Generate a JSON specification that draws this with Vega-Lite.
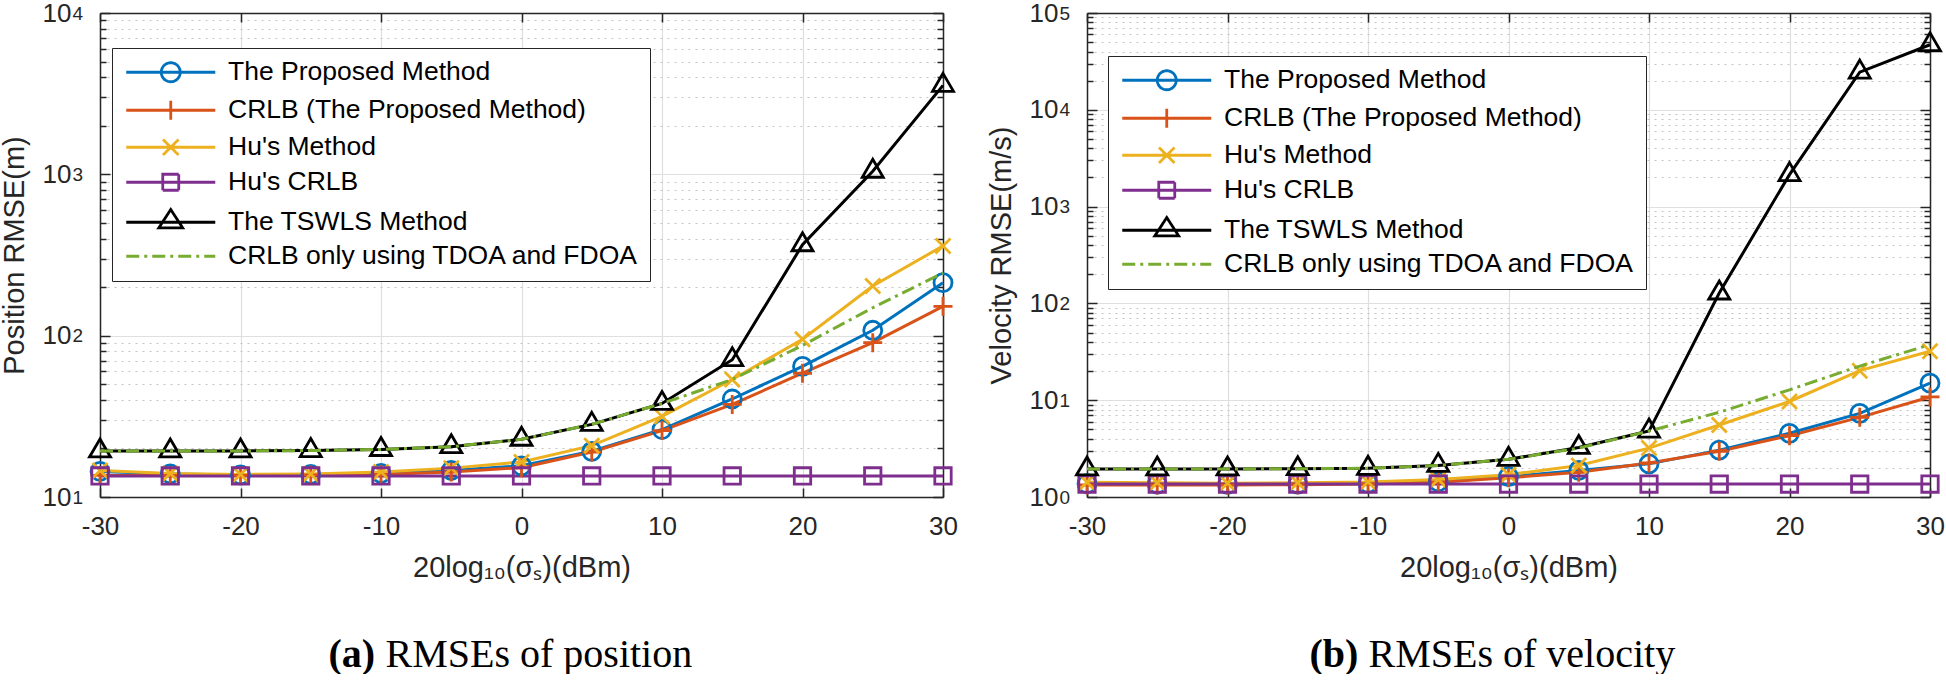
{
"$schema": "https://vega.github.io/schema/vega-lite/v6.json",
"background": "white",
"padding": {"left": 0, "top": 0, "right": 0, "bottom": 0},
"spacing": 27,
"config": {
  "view": {"stroke": null},
  "axis": {"labelFont": "Liberation Sans", "titleFont": "Liberation Sans", "labelColor": "#262626", "titleColor": "#262626", "domainColor": "#262626", "tickColor": "#262626", "domainWidth": 1.5, "tickWidth": 1.5, "titleFontWeight": "normal", "labelOverlap": false, "labelFlush": false, "minExtent": 0}
},
"resolve": {"scale": {"color": "independent", "shape": "independent", "strokeDash": "independent"}},
"datasets": {
"pos": [
{"s":"The Proposed Method","x":-30,"v":14.4},{"s":"The Proposed Method","x":-25,"v":13.9},{"s":"The Proposed Method","x":-20,"v":13.7},{"s":"The Proposed Method","x":-15,"v":13.8},{"s":"The Proposed Method","x":-10,"v":14.0},{"s":"The Proposed Method","x":-5,"v":14.6},{"s":"The Proposed Method","x":0,"v":15.6},{"s":"The Proposed Method","x":5,"v":19.2},{"s":"The Proposed Method","x":10,"v":26.2},{"s":"The Proposed Method","x":15,"v":40.5},{"s":"The Proposed Method","x":20,"v":64.5},{"s":"The Proposed Method","x":25,"v":108},{"s":"The Proposed Method","x":30,"v":213},
{"s":"CRLB (The Proposed Method)","x":-30,"v":13.6},{"s":"CRLB (The Proposed Method)","x":-25,"v":13.6},{"s":"CRLB (The Proposed Method)","x":-20,"v":13.6},{"s":"CRLB (The Proposed Method)","x":-15,"v":13.7},{"s":"CRLB (The Proposed Method)","x":-10,"v":13.8},{"s":"CRLB (The Proposed Method)","x":-5,"v":14.3},{"s":"CRLB (The Proposed Method)","x":0,"v":15.2},{"s":"CRLB (The Proposed Method)","x":5,"v":19.0},{"s":"CRLB (The Proposed Method)","x":10,"v":25.8},{"s":"CRLB (The Proposed Method)","x":15,"v":37.5},{"s":"CRLB (The Proposed Method)","x":20,"v":58.5},{"s":"CRLB (The Proposed Method)","x":25,"v":90.5},{"s":"CRLB (The Proposed Method)","x":30,"v":152},
{"s":"Hu's Method","x":-30,"v":14.6},{"s":"Hu's Method","x":-25,"v":14.0},{"s":"Hu's Method","x":-20,"v":13.8},{"s":"Hu's Method","x":-15,"v":13.9},{"s":"Hu's Method","x":-10,"v":14.3},{"s":"Hu's Method","x":-5,"v":15.1},{"s":"Hu's Method","x":0,"v":16.5},{"s":"Hu's Method","x":5,"v":20.8},{"s":"Hu's Method","x":10,"v":31.6},{"s":"Hu's Method","x":15,"v":53.5},{"s":"Hu's Method","x":20,"v":95},{"s":"Hu's Method","x":25,"v":203},{"s":"Hu's Method","x":30,"v":360},
{"s":"Hu's CRLB","x":-30,"v":13.5},{"s":"Hu's CRLB","x":-25,"v":13.5},{"s":"Hu's CRLB","x":-20,"v":13.5},{"s":"Hu's CRLB","x":-15,"v":13.5},{"s":"Hu's CRLB","x":-10,"v":13.5},{"s":"Hu's CRLB","x":-5,"v":13.5},{"s":"Hu's CRLB","x":0,"v":13.5},{"s":"Hu's CRLB","x":5,"v":13.5},{"s":"Hu's CRLB","x":10,"v":13.5},{"s":"Hu's CRLB","x":15,"v":13.5},{"s":"Hu's CRLB","x":20,"v":13.5},{"s":"Hu's CRLB","x":25,"v":13.5},{"s":"Hu's CRLB","x":30,"v":13.5},
{"s":"The TSWLS Method","x":-30,"v":19.3},{"s":"The TSWLS Method","x":-25,"v":19.3},{"s":"The TSWLS Method","x":-20,"v":19.3},{"s":"The TSWLS Method","x":-15,"v":19.4},{"s":"The TSWLS Method","x":-10,"v":19.7},{"s":"The TSWLS Method","x":-5,"v":20.5},{"s":"The TSWLS Method","x":0,"v":22.8},{"s":"The TSWLS Method","x":5,"v":28.2},{"s":"The TSWLS Method","x":10,"v":38},{"s":"The TSWLS Method","x":15,"v":71},{"s":"The TSWLS Method","x":20,"v":366},{"s":"The TSWLS Method","x":25,"v":1045},{"s":"The TSWLS Method","x":30,"v":3560},
{"s":"CRLB only using TDOA and FDOA","x":-30,"v":19.3},{"s":"CRLB only using TDOA and FDOA","x":-25,"v":19.3},{"s":"CRLB only using TDOA and FDOA","x":-20,"v":19.3},{"s":"CRLB only using TDOA and FDOA","x":-15,"v":19.4},{"s":"CRLB only using TDOA and FDOA","x":-10,"v":19.7},{"s":"CRLB only using TDOA and FDOA","x":-5,"v":20.5},{"s":"CRLB only using TDOA and FDOA","x":0,"v":22.8},{"s":"CRLB only using TDOA and FDOA","x":5,"v":28.2},{"s":"CRLB only using TDOA and FDOA","x":10,"v":38},{"s":"CRLB only using TDOA and FDOA","x":15,"v":53.5},{"s":"CRLB only using TDOA and FDOA","x":20,"v":87},{"s":"CRLB only using TDOA and FDOA","x":25,"v":149},{"s":"CRLB only using TDOA and FDOA","x":30,"v":245}
],
"vel": [
{"s":"The Proposed Method","x":-30,"v":1.37},{"s":"The Proposed Method","x":-25,"v":1.36},{"s":"The Proposed Method","x":-20,"v":1.35},{"s":"The Proposed Method","x":-15,"v":1.36},{"s":"The Proposed Method","x":-10,"v":1.38},{"s":"The Proposed Method","x":-5,"v":1.43},{"s":"The Proposed Method","x":0,"v":1.62},{"s":"The Proposed Method","x":5,"v":1.88},{"s":"The Proposed Method","x":10,"v":2.2},{"s":"The Proposed Method","x":15,"v":3.05},{"s":"The Proposed Method","x":20,"v":4.55},{"s":"The Proposed Method","x":25,"v":7.3},{"s":"The Proposed Method","x":30,"v":15.0},
{"s":"CRLB (The Proposed Method)","x":-30,"v":1.33},{"s":"CRLB (The Proposed Method)","x":-25,"v":1.33},{"s":"CRLB (The Proposed Method)","x":-20,"v":1.33},{"s":"CRLB (The Proposed Method)","x":-15,"v":1.34},{"s":"CRLB (The Proposed Method)","x":-10,"v":1.36},{"s":"CRLB (The Proposed Method)","x":-5,"v":1.42},{"s":"CRLB (The Proposed Method)","x":0,"v":1.58},{"s":"CRLB (The Proposed Method)","x":5,"v":1.80},{"s":"CRLB (The Proposed Method)","x":10,"v":2.25},{"s":"CRLB (The Proposed Method)","x":15,"v":2.97},{"s":"CRLB (The Proposed Method)","x":20,"v":4.3},{"s":"CRLB (The Proposed Method)","x":25,"v":6.65},{"s":"CRLB (The Proposed Method)","x":30,"v":10.8},
{"s":"Hu's Method","x":-30,"v":1.42},{"s":"Hu's Method","x":-25,"v":1.40},{"s":"Hu's Method","x":-20,"v":1.39},{"s":"Hu's Method","x":-15,"v":1.40},{"s":"Hu's Method","x":-10,"v":1.43},{"s":"Hu's Method","x":-5,"v":1.52},{"s":"Hu's Method","x":0,"v":1.70},{"s":"Hu's Method","x":5,"v":2.12},{"s":"Hu's Method","x":10,"v":3.2},{"s":"Hu's Method","x":15,"v":5.55},{"s":"Hu's Method","x":20,"v":9.7},{"s":"Hu's Method","x":25,"v":20.2},{"s":"Hu's Method","x":30,"v":32},
{"s":"Hu's CRLB","x":-30,"v":1.36},{"s":"Hu's CRLB","x":-25,"v":1.36},{"s":"Hu's CRLB","x":-20,"v":1.36},{"s":"Hu's CRLB","x":-15,"v":1.36},{"s":"Hu's CRLB","x":-10,"v":1.36},{"s":"Hu's CRLB","x":-5,"v":1.36},{"s":"Hu's CRLB","x":0,"v":1.36},{"s":"Hu's CRLB","x":5,"v":1.36},{"s":"Hu's CRLB","x":10,"v":1.36},{"s":"Hu's CRLB","x":15,"v":1.36},{"s":"Hu's CRLB","x":20,"v":1.36},{"s":"Hu's CRLB","x":25,"v":1.36},{"s":"Hu's CRLB","x":30,"v":1.36},
{"s":"The TSWLS Method","x":-30,"v":1.95},{"s":"The TSWLS Method","x":-25,"v":1.95},{"s":"The TSWLS Method","x":-20,"v":1.95},{"s":"The TSWLS Method","x":-15,"v":1.96},{"s":"The TSWLS Method","x":-10,"v":1.98},{"s":"The TSWLS Method","x":-5,"v":2.12},{"s":"The TSWLS Method","x":0,"v":2.45},{"s":"The TSWLS Method","x":5,"v":3.25},{"s":"The TSWLS Method","x":10,"v":4.8},{"s":"The TSWLS Method","x":15,"v":128},{"s":"The TSWLS Method","x":20,"v":2140},{"s":"The TSWLS Method","x":25,"v":24500},{"s":"The TSWLS Method","x":30,"v":47000},
{"s":"CRLB only using TDOA and FDOA","x":-30,"v":1.95},{"s":"CRLB only using TDOA and FDOA","x":-25,"v":1.95},{"s":"CRLB only using TDOA and FDOA","x":-20,"v":1.95},{"s":"CRLB only using TDOA and FDOA","x":-15,"v":1.96},{"s":"CRLB only using TDOA and FDOA","x":-10,"v":1.98},{"s":"CRLB only using TDOA and FDOA","x":-5,"v":2.12},{"s":"CRLB only using TDOA and FDOA","x":0,"v":2.45},{"s":"CRLB only using TDOA and FDOA","x":5,"v":3.2},{"s":"CRLB only using TDOA and FDOA","x":10,"v":4.8},{"s":"CRLB only using TDOA and FDOA","x":15,"v":7.5},{"s":"CRLB only using TDOA and FDOA","x":20,"v":12.8},{"s":"CRLB only using TDOA and FDOA","x":25,"v":22.5},{"s":"CRLB only using TDOA and FDOA","x":30,"v":37.5}
]
},
"hconcat": [
{
"width": 843, "height": 484,
"data": {"name": "pos"},
"resolve": {"scale": {"color": "independent", "shape": "independent", "strokeDash": "independent"}, "axis": {"x": "independent", "y": "independent"}},
"layer": [
{
"transform": [{"filter": "datum.s !== 'CRLB only using TDOA and FDOA'"}],
"mark": {"type": "line", "strokeWidth": 3},
"encoding": {
"x": {"field": "x", "type": "quantitative", "scale": {"domain": [-30, 30], "nice": false, "zero": false},
 "axis": {"orient": "bottom", "values": [-30,-20,-10,0,10,20,30], "labelExpr": "'' + datum.value", "ticks": false, "domain": true, "grid": true, "gridColor": "#dfdfdf", "gridWidth": 1.2, "labelFontSize": 26, "labelPadding": 16, "title": "20log₁₀(σₛ)(dBm)", "titleFontSize": 29, "titleY": 79, "titleBaseline": "alphabetic"}},
"y": {"field": "v", "type": "quantitative", "scale": {"type": "log", "domain": [10, 10000], "nice": false},
 "axis": {"orient": "left", "values": [10,20,30,40,50,60,70,80,90,100,200,300,400,500,600,700,800,900,1000,2000,3000,4000,5000,6000,7000,8000,9000,10000],
  "labelExpr": "abs(log(datum.value)/LN10 - round(log(datum.value)/LN10)) < 0.001 ? '10' : ''",
  "ticks": false, "domain": true, "grid": true,
  "gridColor": {"condition": {"test": "abs(log(datum.value)/LN10 - round(log(datum.value)/LN10)) < 0.001", "value": "#dfdfdf"}, "value": "#c4c4c4"},
  "gridDash": {"condition": {"test": "abs(log(datum.value)/LN10 - round(log(datum.value)/LN10)) < 0.001", "value": []}, "value": [2, 5]},
  "gridWidth": 1.2,
  "labelFontSize": 26, "labelPadding": 29, "labelBaseline": "middle", "labelDy": 5,
  "title": "Position RMSE(m)", "titleFontSize": 29, "titleX": -77, "titleBaseline": "alphabetic"}},
"color": {"field": "s", "type": "nominal", "scale": {"domain": ["The Proposed Method","CRLB (The Proposed Method)","Hu's Method","Hu's CRLB","The TSWLS Method","CRLB only using TDOA and FDOA"], "range": ["#0072BD","#D95319","#EDB120","#7E2F8E","#000000","#77AC30"]}, "legend": null}
}
},
{
"transform": [{"filter": "datum.s !== 'CRLB only using TDOA and FDOA'"}],
"mark": {"type": "point", "filled": false, "strokeWidth": 2.8, "size": 400, "opacity": 1},
"encoding": {
"x": {"field": "x", "type": "quantitative", "scale": {"domain": [-30, 30], "nice": false, "zero": false}, "axis": null},
"y": {"field": "v", "type": "quantitative", "scale": {"type": "log", "domain": [10, 10000], "nice": false}, "axis": null},
"color": {"field": "s", "type": "nominal", "scale": {"domain": ["The Proposed Method","CRLB (The Proposed Method)","Hu's Method","Hu's CRLB","The TSWLS Method","CRLB only using TDOA and FDOA"], "range": ["#0072BD","#D95319","#EDB120","#7E2F8E","#000000","#77AC30"]}, "legend": null},
"shape": {"field": "s", "type": "nominal", "scale": {"domain": ["The Proposed Method","CRLB (The Proposed Method)","Hu's Method","Hu's CRLB","The TSWLS Method"], "range": ["M0.9,0A0.9,0.9,0,1,1,-0.9,0A0.9,0.9,0,1,1,0.9,0Z","M-0.95,0L0.95,0M0,-0.95L0,0.95","M-0.75,-0.75L0.75,0.75M-0.75,0.75L0.75,-0.75","M-0.82,-0.82L0.82,-0.82L0.82,0.82L-0.82,0.82Z","M0,-1.2L1.05,0.6L-1.05,0.6Z"]}, "legend": null}
}
},
{
"transform": [{"filter": "datum.s === 'CRLB only using TDOA and FDOA'"}],
"mark": {"type": "line", "strokeWidth": 3, "strokeDash": [13, 5, 3, 5], "color": "#77AC30"},
"encoding": {
"x": {"field": "x", "type": "quantitative", "scale": {"domain": [-30, 30], "nice": false, "zero": false}, "axis": null},
"y": {"field": "v", "type": "quantitative", "scale": {"type": "log", "domain": [10, 10000], "nice": false}, "axis": null}
}
},
{
"mark": {"type": "point", "filled": false, "opacity": 0},
"encoding": {
"x": {"field": "x", "type": "quantitative", "scale": {"domain": [-30, 30], "nice": false, "zero": false}, "axis": null},
"y": {"field": "v", "type": "quantitative", "scale": {"type": "log", "domain": [10, 10000], "nice": false}, "axis": null},
"color": {"field": "s", "type": "nominal", "scale": {"domain": ["The Proposed Method","CRLB (The Proposed Method)","Hu's Method","Hu's CRLB","The TSWLS Method","CRLB only using TDOA and FDOA"], "range": ["#0072BD","#D95319","#EDB120","#7E2F8E","#000000","#77AC30"]},
 "legend": {"title": null, "orient": "none", "legendX": 12, "legendY": 35, "strokeColor": "#262626", "fillColor": "white", "padding": 11, "rowPadding": 7, "symbolSize": 400, "symbolOffset": 34.5, "symbolStrokeWidth": 2.8, "symbolFillColor": "transparent", "symbolOpacity": 1, "labelFont": "Liberation Sans", "labelFontSize": 26.5, "labelColor": "black", "labelOffset": 44, "labelLimit": 0}},
"shape": {"field": "s", "type": "nominal", "scale": {"domain": ["The Proposed Method","CRLB (The Proposed Method)","Hu's Method","Hu's CRLB","The TSWLS Method","CRLB only using TDOA and FDOA"], "range": ["M-4.45,0L4.45,0M0.95,0A0.95,0.95,0,1,1,-0.95,0A0.95,0.95,0,1,1,0.95,0Z","M-4.45,0L4.45,0M0,-0.95L0,0.95","M-4.45,0L4.45,0M-0.78,-0.78L0.78,0.78M-0.78,0.78L0.78,-0.78","M-4.45,0L4.45,0M-0.8,-0.8L0.8,-0.8L0.8,0.8L-0.8,0.8Z","M-4.45,0L4.45,0M0,-1.27L1.2,0.57L-1.2,0.57Z","M-4.45,0L4.45,0"]},
 "legend": {"title": null, "orient": "none", "legendX": 12, "legendY": 35, "strokeColor": "#262626", "fillColor": "white", "padding": 11, "rowPadding": 7, "symbolSize": 400, "symbolOffset": 34.5, "symbolStrokeWidth": 2.8, "symbolFillColor": "transparent", "symbolOpacity": 1, "labelFont": "Liberation Sans", "labelFontSize": 26.5, "labelColor": "black", "labelOffset": 44, "labelLimit": 0}},
"strokeDash": {"field": "s", "type": "nominal", "scale": {"domain": ["The Proposed Method","CRLB (The Proposed Method)","Hu's Method","Hu's CRLB","The TSWLS Method","CRLB only using TDOA and FDOA"], "range": [[1,0],[1,0],[1,0],[1,0],[1,0],[13,5,3,5]]},
 "legend": {"title": null, "orient": "none", "legendX": 12, "legendY": 35, "strokeColor": "#262626", "fillColor": "white", "padding": 11, "rowPadding": 7, "symbolSize": 400, "symbolOffset": 34.5, "symbolStrokeWidth": 2.8, "symbolFillColor": "transparent", "symbolOpacity": 1, "labelFont": "Liberation Sans", "labelFontSize": 26.5, "labelColor": "black", "labelOffset": 44, "labelLimit": 0}}
}
},
{
"mark": {"type": "point", "opacity": 0},
"encoding": {
"x": {"field": "x", "type": "quantitative", "scale": {"domain": [-30, 30], "nice": false, "zero": false},
 "axis": {"orient": "top", "values": [-30,-20,-10,0,10,20,30], "labels": false, "ticks": true, "tickSize": -9, "domain": true, "grid": false, "title": null}},
"y": {"field": "v", "type": "quantitative", "scale": {"type": "log", "domain": [10, 10000], "nice": false},
 "axis": {"orient": "right", "values": [10,20,30,40,50,60,70,80,90,100,200,300,400,500,600,700,800,900,1000,2000,3000,4000,5000,6000,7000,8000,9000,10000], "labels": false, "ticks": true,
  "tickSize": {"condition": {"test": "abs(log(datum.value)/LN10 - round(log(datum.value)/LN10)) < 0.001", "value": -10}, "value": -6}, "domain": true, "grid": false, "title": null}}
}
},
{
"mark": {"type": "point", "opacity": 0},
"encoding": {
"x": {"field": "x", "type": "quantitative", "scale": {"domain": [-30, 30], "nice": false, "zero": false},
 "axis": {"orient": "bottom", "values": [-30,-20,-10,0,10,20,30], "labels": false, "ticks": true, "tickSize": -9, "domain": false, "grid": false,
  "title": "(a)", "titleFont": "Liberation Serif", "titleFontSize": 40, "titleFontWeight": "bold", "titleColor": "black", "titleX": 228, "titleY": 169, "titleAlign": "left", "titleBaseline": "alphabetic", "titleAnchor": "start"}},
"y": {"field": "v", "type": "quantitative", "scale": {"type": "log", "domain": [10, 10000], "nice": false},
 "axis": {"orient": "left", "values": [10,20,30,40,50,60,70,80,90,100,200,300,400,500,600,700,800,900,1000,2000,3000,4000,5000,6000,7000,8000,9000,10000], "labels": false, "ticks": true,
  "tickSize": {"condition": {"test": "abs(log(datum.value)/LN10 - round(log(datum.value)/LN10)) < 0.001", "value": -10}, "value": -6}, "domain": false, "grid": false, "title": null}}
}
},
{
"mark": {"type": "point", "opacity": 0},
"encoding": {
"x": {"field": "x", "type": "quantitative", "scale": {"domain": [-30, 30], "nice": false, "zero": false},
 "axis": {"orient": "bottom", "labels": false, "ticks": false, "domain": false, "grid": false,
  "title": "RMSEs of position", "titleFont": "Liberation Serif", "titleFontSize": 40, "titleFontWeight": "normal", "titleColor": "black", "titleX": 285, "titleY": 169, "titleAlign": "left", "titleBaseline": "alphabetic", "titleAnchor": "start"}},
"y": {"field": "v", "type": "quantitative", "scale": {"type": "log", "domain": [10, 10000], "nice": false},
 "axis": {"orient": "left", "values": [10,100,1000,10000], "labelExpr": "'' + round(log(datum.value)/LN10)", "labelFontSize": 19, "labelAlign": "left", "labelPadding": 28, "labelBaseline": "middle", "labelDy": -5, "ticks": false, "domain": false, "grid": false, "title": null}}
}
}
]
},
{
"width": 843, "height": 484,
"data": {"name": "vel"},
"resolve": {"scale": {"color": "independent", "shape": "independent", "strokeDash": "independent"}, "axis": {"x": "independent", "y": "independent"}},
"layer": [
{
"transform": [{"filter": "datum.s !== 'CRLB only using TDOA and FDOA'"}],
"mark": {"type": "line", "strokeWidth": 3},
"encoding": {
"x": {"field": "x", "type": "quantitative", "scale": {"domain": [-30, 30], "nice": false, "zero": false},
 "axis": {"orient": "bottom", "values": [-30,-20,-10,0,10,20,30], "labelExpr": "'' + datum.value", "ticks": false, "domain": true, "grid": true, "gridColor": "#dfdfdf", "gridWidth": 1.2, "labelFontSize": 26, "labelPadding": 16, "title": "20log₁₀(σₛ)(dBm)", "titleFontSize": 29, "titleY": 79, "titleBaseline": "alphabetic"}},
"y": {"field": "v", "type": "quantitative", "scale": {"type": "log", "domain": [1, 100000], "nice": false},
 "axis": {"orient": "left", "values": [1,2,3,4,5,6,7,8,9,10,20,30,40,50,60,70,80,90,100,200,300,400,500,600,700,800,900,1000,2000,3000,4000,5000,6000,7000,8000,9000,10000,20000,30000,40000,50000,60000,70000,80000,90000,100000],
  "labelExpr": "abs(log(datum.value)/LN10 - round(log(datum.value)/LN10)) < 0.001 ? '10' : ''",
  "ticks": false, "domain": true, "grid": true,
  "gridColor": {"condition": {"test": "abs(log(datum.value)/LN10 - round(log(datum.value)/LN10)) < 0.001", "value": "#dfdfdf"}, "value": "#c4c4c4"},
  "gridDash": {"condition": {"test": "abs(log(datum.value)/LN10 - round(log(datum.value)/LN10)) < 0.001", "value": []}, "value": [2, 5]},
  "gridWidth": 1.2,
  "labelFontSize": 26, "labelPadding": 29, "labelBaseline": "middle", "labelDy": 5,
  "title": "Velocity RMSE(m/s)", "titleFontSize": 29, "titleX": -77, "titleBaseline": "alphabetic"}},
"color": {"field": "s", "type": "nominal", "scale": {"domain": ["The Proposed Method","CRLB (The Proposed Method)","Hu's Method","Hu's CRLB","The TSWLS Method","CRLB only using TDOA and FDOA"], "range": ["#0072BD","#D95319","#EDB120","#7E2F8E","#000000","#77AC30"]}, "legend": null}
}
},
{
"transform": [{"filter": "datum.s !== 'CRLB only using TDOA and FDOA'"}],
"mark": {"type": "point", "filled": false, "strokeWidth": 2.8, "size": 400, "opacity": 1},
"encoding": {
"x": {"field": "x", "type": "quantitative", "scale": {"domain": [-30, 30], "nice": false, "zero": false}, "axis": null},
"y": {"field": "v", "type": "quantitative", "scale": {"type": "log", "domain": [1, 100000], "nice": false}, "axis": null},
"color": {"field": "s", "type": "nominal", "scale": {"domain": ["The Proposed Method","CRLB (The Proposed Method)","Hu's Method","Hu's CRLB","The TSWLS Method","CRLB only using TDOA and FDOA"], "range": ["#0072BD","#D95319","#EDB120","#7E2F8E","#000000","#77AC30"]}, "legend": null},
"shape": {"field": "s", "type": "nominal", "scale": {"domain": ["The Proposed Method","CRLB (The Proposed Method)","Hu's Method","Hu's CRLB","The TSWLS Method"], "range": ["M0.9,0A0.9,0.9,0,1,1,-0.9,0A0.9,0.9,0,1,1,0.9,0Z","M-0.95,0L0.95,0M0,-0.95L0,0.95","M-0.75,-0.75L0.75,0.75M-0.75,0.75L0.75,-0.75","M-0.82,-0.82L0.82,-0.82L0.82,0.82L-0.82,0.82Z","M0,-1.2L1.05,0.6L-1.05,0.6Z"]}, "legend": null}
}
},
{
"transform": [{"filter": "datum.s === 'CRLB only using TDOA and FDOA'"}],
"mark": {"type": "line", "strokeWidth": 3, "strokeDash": [13, 5, 3, 5], "color": "#77AC30"},
"encoding": {
"x": {"field": "x", "type": "quantitative", "scale": {"domain": [-30, 30], "nice": false, "zero": false}, "axis": null},
"y": {"field": "v", "type": "quantitative", "scale": {"type": "log", "domain": [1, 100000], "nice": false}, "axis": null}
}
},
{
"mark": {"type": "point", "filled": false, "opacity": 0},
"encoding": {
"x": {"field": "x", "type": "quantitative", "scale": {"domain": [-30, 30], "nice": false, "zero": false}, "axis": null},
"y": {"field": "v", "type": "quantitative", "scale": {"type": "log", "domain": [1, 100000], "nice": false}, "axis": null},
"color": {"field": "s", "type": "nominal", "scale": {"domain": ["The Proposed Method","CRLB (The Proposed Method)","Hu's Method","Hu's CRLB","The TSWLS Method","CRLB only using TDOA and FDOA"], "range": ["#0072BD","#D95319","#EDB120","#7E2F8E","#000000","#77AC30"]},
 "legend": {"title": null, "orient": "none", "legendX": 21, "legendY": 43, "strokeColor": "#262626", "fillColor": "white", "padding": 11, "rowPadding": 7, "symbolSize": 400, "symbolOffset": 34.5, "symbolStrokeWidth": 2.8, "symbolFillColor": "transparent", "symbolOpacity": 1, "labelFont": "Liberation Sans", "labelFontSize": 26.5, "labelColor": "black", "labelOffset": 44, "labelLimit": 0}},
"shape": {"field": "s", "type": "nominal", "scale": {"domain": ["The Proposed Method","CRLB (The Proposed Method)","Hu's Method","Hu's CRLB","The TSWLS Method","CRLB only using TDOA and FDOA"], "range": ["M-4.45,0L4.45,0M0.95,0A0.95,0.95,0,1,1,-0.95,0A0.95,0.95,0,1,1,0.95,0Z","M-4.45,0L4.45,0M0,-0.95L0,0.95","M-4.45,0L4.45,0M-0.78,-0.78L0.78,0.78M-0.78,0.78L0.78,-0.78","M-4.45,0L4.45,0M-0.8,-0.8L0.8,-0.8L0.8,0.8L-0.8,0.8Z","M-4.45,0L4.45,0M0,-1.27L1.2,0.57L-1.2,0.57Z","M-4.45,0L4.45,0"]},
 "legend": {"title": null, "orient": "none", "legendX": 21, "legendY": 43, "strokeColor": "#262626", "fillColor": "white", "padding": 11, "rowPadding": 7, "symbolSize": 400, "symbolOffset": 34.5, "symbolStrokeWidth": 2.8, "symbolFillColor": "transparent", "symbolOpacity": 1, "labelFont": "Liberation Sans", "labelFontSize": 26.5, "labelColor": "black", "labelOffset": 44, "labelLimit": 0}},
"strokeDash": {"field": "s", "type": "nominal", "scale": {"domain": ["The Proposed Method","CRLB (The Proposed Method)","Hu's Method","Hu's CRLB","The TSWLS Method","CRLB only using TDOA and FDOA"], "range": [[1,0],[1,0],[1,0],[1,0],[1,0],[13,5,3,5]]},
 "legend": {"title": null, "orient": "none", "legendX": 21, "legendY": 43, "strokeColor": "#262626", "fillColor": "white", "padding": 11, "rowPadding": 7, "symbolSize": 400, "symbolOffset": 34.5, "symbolStrokeWidth": 2.8, "symbolFillColor": "transparent", "symbolOpacity": 1, "labelFont": "Liberation Sans", "labelFontSize": 26.5, "labelColor": "black", "labelOffset": 44, "labelLimit": 0}}
}
},
{
"mark": {"type": "point", "opacity": 0},
"encoding": {
"x": {"field": "x", "type": "quantitative", "scale": {"domain": [-30, 30], "nice": false, "zero": false},
 "axis": {"orient": "top", "values": [-30,-20,-10,0,10,20,30], "labels": false, "ticks": true, "tickSize": -9, "domain": true, "grid": false, "title": null}},
"y": {"field": "v", "type": "quantitative", "scale": {"type": "log", "domain": [1, 100000], "nice": false},
 "axis": {"orient": "right", "values": [1,2,3,4,5,6,7,8,9,10,20,30,40,50,60,70,80,90,100,200,300,400,500,600,700,800,900,1000,2000,3000,4000,5000,6000,7000,8000,9000,10000,20000,30000,40000,50000,60000,70000,80000,90000,100000], "labels": false, "ticks": true,
  "tickSize": {"condition": {"test": "abs(log(datum.value)/LN10 - round(log(datum.value)/LN10)) < 0.001", "value": -10}, "value": -6}, "domain": true, "grid": false, "title": null}}
}
},
{
"mark": {"type": "point", "opacity": 0},
"encoding": {
"x": {"field": "x", "type": "quantitative", "scale": {"domain": [-30, 30], "nice": false, "zero": false},
 "axis": {"orient": "bottom", "values": [-30,-20,-10,0,10,20,30], "labels": false, "ticks": true, "tickSize": -9, "domain": false, "grid": false,
  "title": "(b)", "titleFont": "Liberation Serif", "titleFontSize": 40, "titleFontWeight": "bold", "titleColor": "black", "titleX": 222, "titleY": 169, "titleAlign": "left", "titleBaseline": "alphabetic", "titleAnchor": "start"}},
"y": {"field": "v", "type": "quantitative", "scale": {"type": "log", "domain": [1, 100000], "nice": false},
 "axis": {"orient": "left", "values": [1,2,3,4,5,6,7,8,9,10,20,30,40,50,60,70,80,90,100,200,300,400,500,600,700,800,900,1000,2000,3000,4000,5000,6000,7000,8000,9000,10000,20000,30000,40000,50000,60000,70000,80000,90000,100000], "labels": false, "ticks": true,
  "tickSize": {"condition": {"test": "abs(log(datum.value)/LN10 - round(log(datum.value)/LN10)) < 0.001", "value": -10}, "value": -6}, "domain": false, "grid": false, "title": null}}
}
},
{
"mark": {"type": "point", "opacity": 0},
"encoding": {
"x": {"field": "x", "type": "quantitative", "scale": {"domain": [-30, 30], "nice": false, "zero": false},
 "axis": {"orient": "bottom", "labels": false, "ticks": false, "domain": false, "grid": false,
  "title": "RMSEs of velocity", "titleFont": "Liberation Serif", "titleFontSize": 40, "titleFontWeight": "normal", "titleColor": "black", "titleX": 281, "titleY": 169, "titleAlign": "left", "titleBaseline": "alphabetic", "titleAnchor": "start"}},
"y": {"field": "v", "type": "quantitative", "scale": {"type": "log", "domain": [1, 100000], "nice": false},
 "axis": {"orient": "left", "values": [1,10,100,1000,10000,100000], "labelExpr": "'' + round(log(datum.value)/LN10)", "labelFontSize": 19, "labelAlign": "left", "labelPadding": 28, "labelBaseline": "middle", "labelDy": -5, "ticks": false, "domain": false, "grid": false, "title": null}}
}
}
]
}
]
}
